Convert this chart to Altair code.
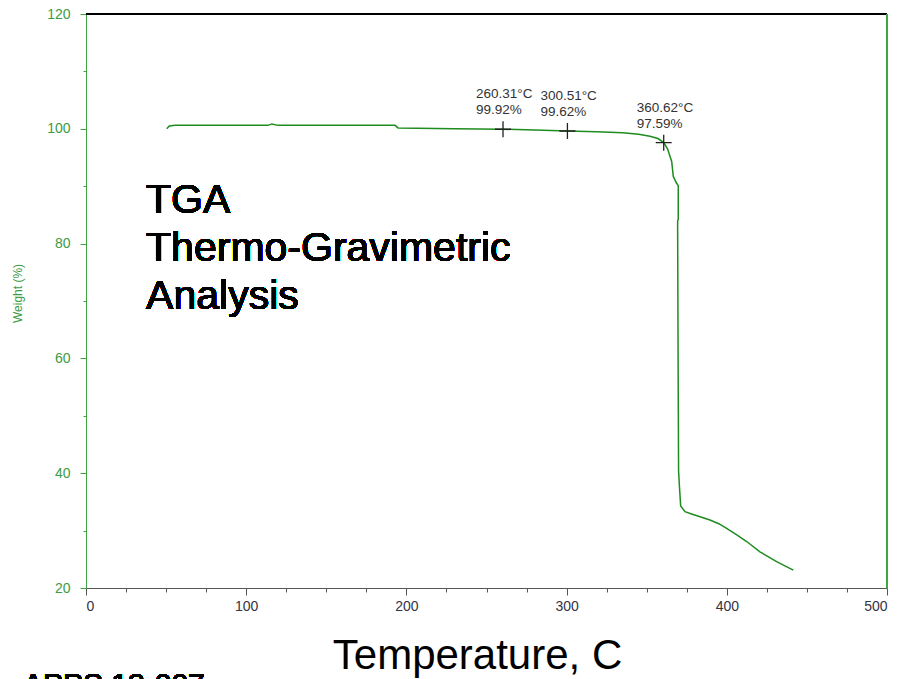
import altair as alt
import pandas as pd

# ---- data ----
temp_c = [50.4, 52.0, 55.6, 113.6, 116.0, 119.9, 192.9, 194.8, 230.0, 260.31,
          280.0, 300.51, 318.7, 335.0, 345.0, 352.0, 357.0, 360.62, 363.0, 365.6,
          366.6, 368.5, 369.7, 369.7, 369.3, 369.6, 369.9, 370.6, 371.2, 373.9,
          378.0, 383.3, 389.5, 395.0, 399.9, 406.0, 412.4, 420.7, 431.1, 441.5]
weight_pct = [100.0, 100.5, 100.6, 100.6, 100.85, 100.6, 100.6, 100.15, 100.0, 99.92,
              99.8, 99.62, 99.5, 99.3, 99.05, 98.7, 98.3, 97.59, 96.5, 94.3,
              91.7, 90.6, 90.1, 84.3, 83.9, 60.0, 40.3, 37.0, 34.3, 33.3,
              32.9, 32.4, 31.85, 31.2, 30.4, 29.3, 28.1, 26.3, 24.6, 23.1]

ann_temp = [260.31, 300.51, 360.62]
ann_weight = [99.92, 99.62, 97.59]
ann_text = [f"{t:.2f}°C\n{w:.2f}%" for t, w in zip(ann_temp, ann_weight)]

x_ticks = list(range(0, 501, 25))
y_ticks = list(range(20, 121, 5))

curve = pd.DataFrame({"T": temp_c, "W": weight_pct, "i": range(len(temp_c))})
ann = pd.DataFrame({"T": ann_temp, "W": ann_weight, "label": ann_text})

GREEN = "#1e8c1e"
AXIS_GREEN = "#3fa63f"
LABEL_GREEN = "#3d9a45"

xscale = alt.Scale(domain=[0, 500], nice=False, zero=False)
yscale = alt.Scale(domain=[20, 120], nice=False, zero=False)

x_axis = alt.Axis(
    values=x_ticks,
    labelExpr="datum.value % 100 === 0 ? datum.label : ''",
    tickSize={"condition": {"test": "datum.value % 100 === 0", "value": 7}, "value": 4},
    tickColor="#555555", domainColor="#555555", labelColor="#333344",
    labelFontSize=14, labelPadding=4, grid=False,
    title="Temperature, C", titleFontSize=42, titleFontWeight="normal",
    titleColor="#000000", titleX=391, titleY=80,
    titleAlign="center", titleBaseline="alphabetic",
)
y_axis = alt.Axis(
    values=y_ticks,
    labelExpr="datum.value % 20 === 0 ? datum.label : ''",
    tickSize={"condition": {"test": "datum.value % 20 === 0", "value": 6}, "value": 3},
    tickColor=AXIS_GREEN, domainColor=AXIS_GREEN, labelColor=LABEL_GREEN,
    labelFontSize=14, labelPadding=10, grid=False,
    title="Weight (%)", titleFontSize=12, titleFontWeight="normal",
    titleColor=LABEL_GREEN, titleAngle=270, titleX=-69, titleY=279,
    titleAlign="center", titleBaseline="middle",
)

line = alt.Chart(curve).mark_line(color=GREEN, strokeWidth=1.5).encode(
    x=alt.X("T:Q", scale=xscale, axis=x_axis),
    y=alt.Y("W:Q", scale=yscale, axis=y_axis),
    order="i:O",
)

top_border = alt.Chart(curve).mark_rule(color="#000000", strokeWidth=1).encode(
    x=alt.XDatum(0), x2=alt.X2Datum(500), y=alt.YDatum(120)
)
right_border = alt.Chart(curve).mark_rule(color=AXIS_GREEN, strokeWidth=1).encode(
    x=alt.XDatum(500), y=alt.YDatum(20), y2=alt.Y2Datum(120)
)

markers = alt.Chart(ann).mark_point(
    shape="M-1,0L1,0M0,-1L0,1", size=256, color="#222222", strokeWidth=1.3,
    filled=False, opacity=1
).encode(
    x="T:Q", y="W:Q"
)

ann_labels = alt.Chart(ann).mark_text(
    align="left", baseline="alphabetic", dx=-27, dy=-31, fontSize=13.5,
    lineHeight=16, lineBreak="\n", color="#333333"
).encode(
    x="T:Q", y="W:Q", text="label:N"
)

tga_text = alt.Chart(curve).mark_text(
    align="left", baseline="alphabetic", fontSize=41, lineHeight=48,
    lineBreak="\n", color="#000000"
).encode(
    x=alt.XDatum(37.5), y=alt.YDatum(85.3),
    text=alt.value("TGA\nThermo-Gravimetric\nAnalysis"),
)

apps_text = alt.Chart(curve).mark_text(
    align="left", baseline="alphabetic", fontSize=30, color="#000000"
).encode(
    x=alt.value(-63), y=alt.value(679.5), text=alt.value("APPS 13-007")
)

chart = alt.layer(
    line, top_border, right_border, markers, ann_labels, tga_text, apps_text
).properties(
    width=801, height=574,
    autosize=alt.AutoSizeParams(type="none"),
    padding={"left": 86, "top": 14, "right": 12, "bottom": 91},
).configure_view(stroke=None).configure(
    font="Liberation Sans"
)

chart.save("out.html", embed_options={"renderer": "svg", "actions": False})
